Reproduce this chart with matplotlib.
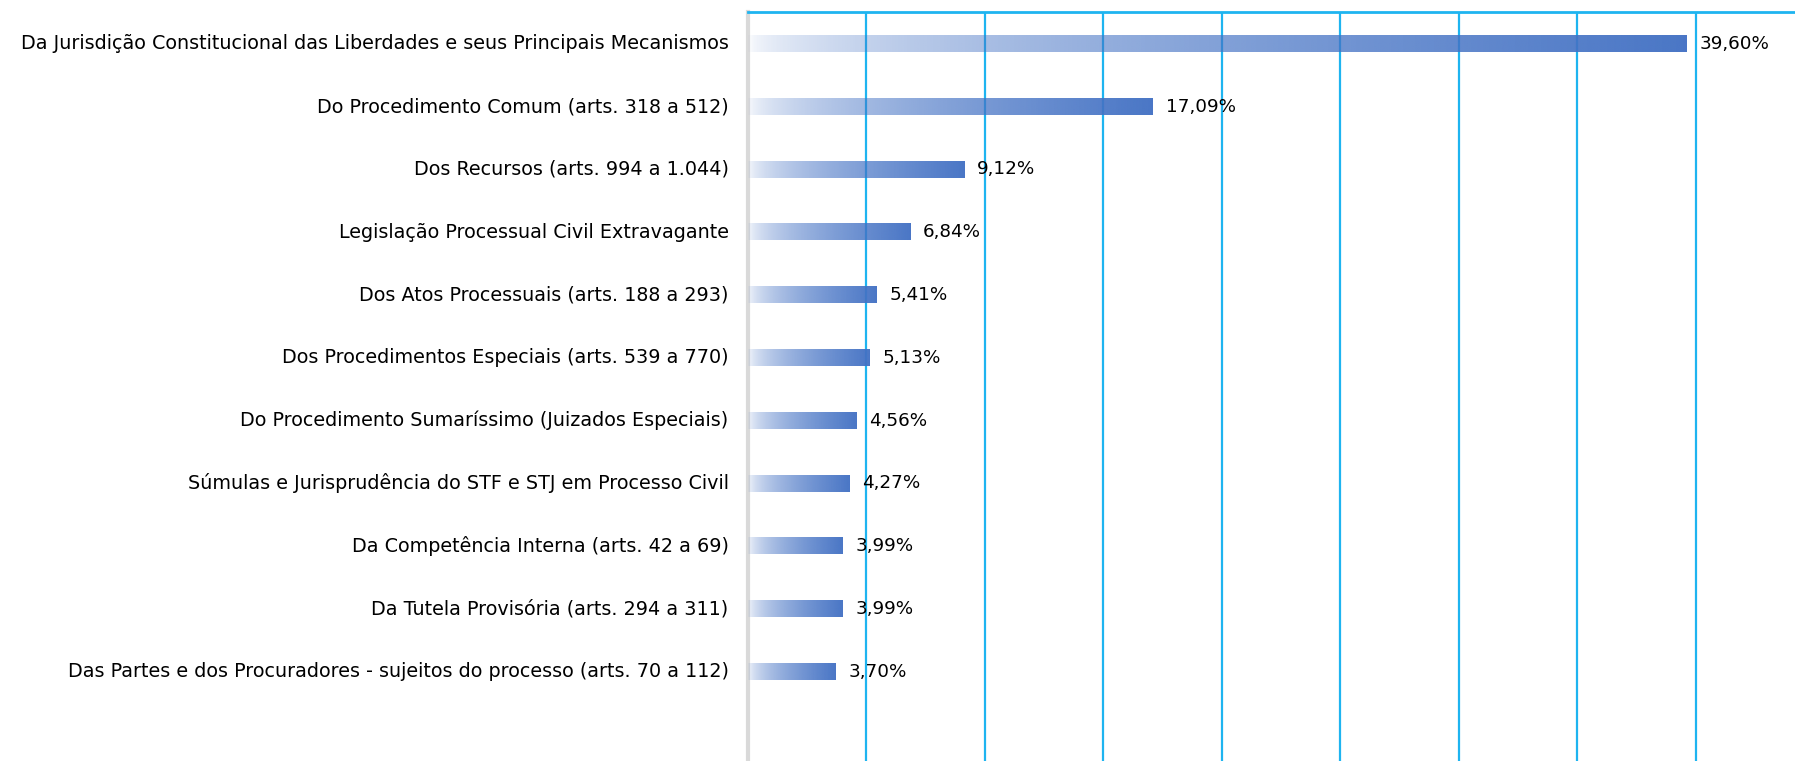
import matplotlib.pyplot as plt
import numpy as np
from matplotlib.colors import to_rgb

plt.rcParams['font.family'] = ['DejaVu Sans']

categories = [
    "Da Jurisdição Constitucional das Liberdades e seus Principais Mecanismos",
    "Do Procedimento Comum (arts. 318 a 512)",
    "Dos Recursos (arts. 994 a 1.044)",
    "Legislação Processual Civil Extravagante",
    "Dos Atos Processuais (arts. 188 a 293)",
    "Dos Procedimentos Especiais (arts. 539 a 770)",
    "Do Procedimento Sumaríssimo (Juizados Especiais)",
    "Súmulas e Jurisprudência do STF e STJ em Processo Civil",
    "Da Competência Interna (arts. 42 a 69)",
    "Da Tutela Provisória (arts. 294 a 311)",
    "Das Partes e dos Procuradores - sujeitos do processo (arts. 70 a 112)",
]
values = [39.60, 17.09, 9.12, 6.84, 5.41, 5.13, 4.56, 4.27, 3.99, 3.99, 3.70]

BAR_COLOR = "#4472C4"
GRID_COLOR = "#1EB4F0"

fig = plt.figure(figsize=(17.95, 7.61), dpi=100)
ax = fig.add_axes([748 / 1795, 0, 1 - 748 / 1795, 1 - 12 / 761])

# gradiente horizontal: transparente -> azul
t = np.linspace(0, 1, 256)
alpha = 0.02 + 0.95 * t ** 0.55
rgba = np.zeros((1, 256, 4))
rgba[0, :, :3] = to_rgb(BAR_COLOR)
rgba[0, :, 3] = alpha

h = 0.26
for i, v in enumerate(values):
    ax.imshow(rgba, extent=[0, v, i + h / 2, i - h / 2], aspect='auto',
              interpolation='bilinear', zorder=3)
    ax.text(v + 0.55, i, f"{v:.2f}%".replace('.', ','), va='center',
            ha='left', fontsize=13.2, color='black', zorder=4)

ax.set_xlim(0, 44.2)
ax.set_ylim(11.42, -0.505)
ax.set_xticks(np.arange(5, 45, 5))
ax.set_yticks(range(len(categories)))
ax.set_yticklabels(categories, fontsize=13.8, va='center')
ax.tick_params(axis='x', which='both', length=0, labelbottom=False)
ax.tick_params(axis='y', length=0, pad=14)
ax.grid(axis='x', color=GRID_COLOR, linewidth=1.6, zorder=1)
ax.set_axisbelow(True)

for s in ['right', 'bottom']:
    ax.spines[s].set_visible(False)
ax.spines['top'].set_color(GRID_COLOR)
ax.spines['top'].set_linewidth(2)
ax.spines['left'].set_color('#D9D9D9')
ax.spines['left'].set_linewidth(3)

fig.savefig("out.png", dpi=100)
